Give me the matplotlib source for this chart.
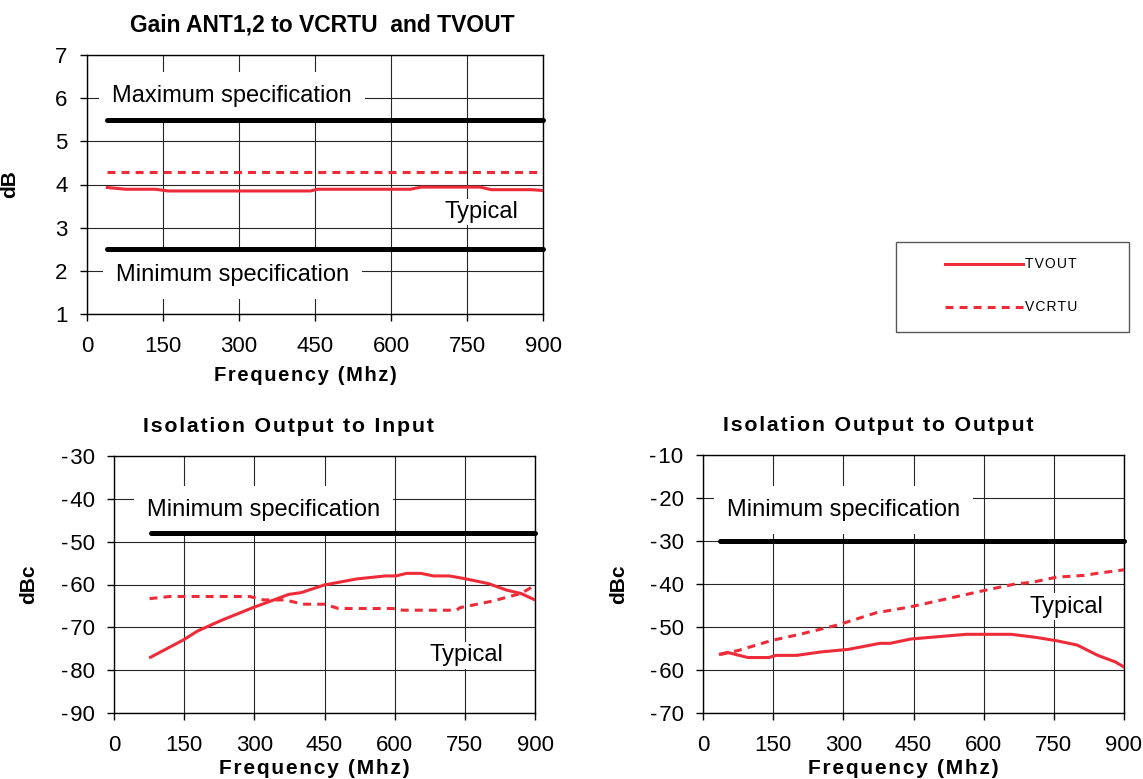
import matplotlib
matplotlib.use("Agg")
import matplotlib.pyplot as plt
from matplotlib.lines import Line2D
from matplotlib.patches import Rectangle
from matplotlib.ticker import FuncFormatter

plt.rcParams['font.family'] = ['Liberation Sans', 'DejaVu Sans']
plt.rcParams['axes.unicode_minus'] = False

RED = '#EE2B38'
HS = '\u200a'  # hair space, used for the letter-spaced labels


def spaced(s):
    return HS.join(s)


# ---------------- data ----------------
x_ticks = [0, 150, 300, 450, 600, 750, 900]

# Gain chart
gain_spec_x = [40, 900]
gain_max_spec = [5.5, 5.5]
gain_min_spec = [2.5, 2.5]
gain_tvout_f = [40, 77, 135, 160, 441, 455, 638, 660, 776, 798, 878, 900]
gain_tvout = [3.93, 3.89, 3.89, 3.85, 3.85, 3.89, 3.89, 3.94, 3.94, 3.88, 3.88, 3.86]
gain_vcrtu_f = [40, 900]
gain_vcrtu = [4.28, 4.28]

# Isolation output to input
iso_in_spec_x = [80, 900]
iso_in_min_spec = [-48, -48]
iso_in_tvout_f = [78, 149, 178, 229, 297, 374, 400, 450, 519, 580, 603, 625, 656,
                  683, 717, 748, 801, 839, 870, 900]
iso_in_tvout = [-77.0, -72.9, -70.9, -68.4, -65.4, -62.3, -61.9, -60.1, -58.7, -58.0,
                -58.0, -57.4, -57.4, -58.0, -58.0, -58.6, -59.8, -61.3, -62.1, -63.6]
iso_in_vcrtu_f = [76, 120, 290, 320, 366, 404, 450, 480, 595, 618, 732, 740, 808, 870, 895]
iso_in_vcrtu = [-63.3, -62.8, -62.8, -63.6, -63.6, -64.6, -64.6, -65.6, -65.6, -66.0,
                -66.0, -65.4, -63.9, -62.1, -60.5]

# Isolation output to output
iso_out_spec_x = [37, 900]
iso_out_min_spec = [-30, -30]
iso_out_tvout_f = [37, 52, 96, 141, 156, 200, 252, 311, 378, 400, 444, 519, 563, 659,
                   711, 756, 800, 844, 881, 900]
iso_out_tvout = [-56.3, -55.9, -57.1, -57.1, -56.6, -56.6, -55.8, -55.2, -53.8, -53.8,
                 -52.8, -52.1, -51.7, -51.7, -52.4, -53.2, -54.2, -56.6, -58.1, -59.3]
iso_out_vcrtu_f = [37, 74, 148, 207, 289, 370, 444, 519, 593, 667, 704, 756, 815, 844, 900]
iso_out_vcrtu = [-56.4, -55.5, -53.1, -51.7, -49.5, -46.7, -45.3, -43.5, -41.7, -40.0,
                 -39.6, -38.4, -38.0, -37.5, -36.7]

legend_labels = ['TVOUT', 'VCRTU']

# ---------------- figure ----------------
W, H = 1143, 779
fig = plt.figure(figsize=(W / 100, H / 100), dpi=100)


def px_axes(l, t, r, b):
    return fig.add_axes([l / W, 1 - b / H, (r - l) / W, (b - t) / H])


ax_gain = px_axes(87, 55, 543, 314)
ax_in = px_axes(114, 456, 535, 713)
ax_out = px_axes(703, 455, 1124, 713)

spec_kw = dict(color='black', lw=3.6, solid_capstyle='round', clip_on=False, zorder=4)
solid_kw = dict(color=RED, lw=2.2, zorder=5, solid_joinstyle='round')
dash_kw = dict(color=RED, lw=2.2, zorder=5, linestyle=(0, (2.6, 2.0)))
box_big = dict(boxstyle='square,pad=0.55', facecolor='white', edgecolor='none')
box_small = dict(boxstyle='square,pad=0.1', facecolor='white', edgecolor='none')


def neg_fmt(v, pos):
    v = int(round(v))
    return ('-' + HS + str(-v)) if v < 0 else str(v)


def style(ax, ylim, yticks, title, title_x, title_fs, title_sp, ylabel, ylabel_x,
          xlabel_x, xlabel_y, xlabel_fs):
    ax.set_xlim(0, 900)
    ax.set_ylim(*ylim)
    ax.set_xticks(x_ticks)
    ax.set_yticks(yticks)
    ax.yaxis.set_major_formatter(FuncFormatter(neg_fmt))
    ax.grid(True, color='0.15', lw=0.8, zorder=0)
    ax.set_axisbelow(True)
    for s in ax.spines.values():
        s.set_linewidth(1.0)
    ax.tick_params(axis='both', direction='out', length=5, width=1, labelsize=16)
    ax.tick_params(axis='x', pad=11)
    ax.tick_params(axis='y', pad=9)
    ax.set_title(spaced(title) if title_sp else title, fontsize=title_fs,
                 fontweight='bold', x=title_x, pad=17)
    ax.set_ylabel(ylabel, fontsize=15, fontweight='bold')
    ax.yaxis.set_label_coords(ylabel_x, 0.5)
    ax.set_xlabel(spaced('Frequency (Mhz)'), fontsize=xlabel_fs, fontweight='bold')
    ax.xaxis.set_label_coords(xlabel_x, xlabel_y)


# Gain chart
ax = ax_gain
style(ax, (1, 7), [1, 2, 3, 4, 5, 6, 7], 'Gain ANT1,2 to VCRTU  and TVOUT', 0.515, 16.5, False,
      'dB', -0.148, 0.478, -0.2, 14.5)
ax.plot(gain_spec_x, gain_max_spec, **spec_kw)
ax.plot(gain_spec_x, gain_min_spec, **spec_kw)
ax.plot(gain_tvout_f, gain_tvout, **solid_kw)
ax.plot(gain_vcrtu_f, gain_vcrtu, **dash_kw)
ax.text(286, 6.05, 'Maximum specification', fontsize=17, ha='center', va='center', bbox=box_big)
ax.text(288, 1.90, 'Minimum specification', fontsize=17, ha='center', va='center', bbox=box_big)
ax.text(778, 3.36, 'Typical', fontsize=17, ha='center', va='center', bbox=box_small)

# Isolation output to input
ax = ax_in
style(ax, (-90, -30), list(range(-90, -29, 10)), 'Isolation Output to Input', 0.414, 15.4, True,
      'dBc', -0.18, 0.475, -0.178, 15)
ax.plot(iso_in_spec_x, iso_in_min_spec, **spec_kw)
ax.plot(iso_in_tvout_f, iso_in_tvout, **solid_kw)
ax.plot(iso_in_vcrtu_f, iso_in_vcrtu, **dash_kw)
ax.text(319, -42.6, 'Minimum specification', fontsize=17, ha='center', va='center', bbox=box_big)
ax.text(753, -76.5, 'Typical', fontsize=17, ha='center', va='center', bbox=box_small)

# Isolation output to output
ax = ax_out
style(ax, (-70, -10), list(range(-70, -9, 10)), 'Isolation Output to Output', 0.416, 15.4, True,
      'dBc', -0.178, 0.475, -0.178, 15)
ax.plot(iso_out_spec_x, iso_out_min_spec, **spec_kw)
ax.plot(iso_out_tvout_f, iso_out_tvout, **solid_kw)
ax.plot(iso_out_vcrtu_f, iso_out_vcrtu, **dash_kw)
ax.text(301, -22.8, 'Minimum specification', fontsize=17, ha='center', va='center', bbox=box_big)
ax.text(778, -45.3, 'Typical', fontsize=17, ha='center', va='center', bbox=box_small)

# Legend (separate box, like the original)
fig.patches.append(Rectangle((896 / W, 1 - 332 / H), 233 / W, 90 / H, transform=fig.transFigure,
                             facecolor='white', edgecolor='0.35', lw=1.0))
for (ypx, kw), lab in zip([(264, solid_kw), (307, dash_kw)], legend_labels):
    k = dict(kw)
    k.pop('zorder', None)
    fig.add_artist(Line2D([945 / W, 1023 / W], [1 - ypx / H, 1 - ypx / H],
                          transform=fig.transFigure, **k))
    fig.text(1025 / W, 1 - ypx / H, spaced(lab), fontsize=10, ha='left', va='center')

fig.savefig('out.png', dpi=100)
